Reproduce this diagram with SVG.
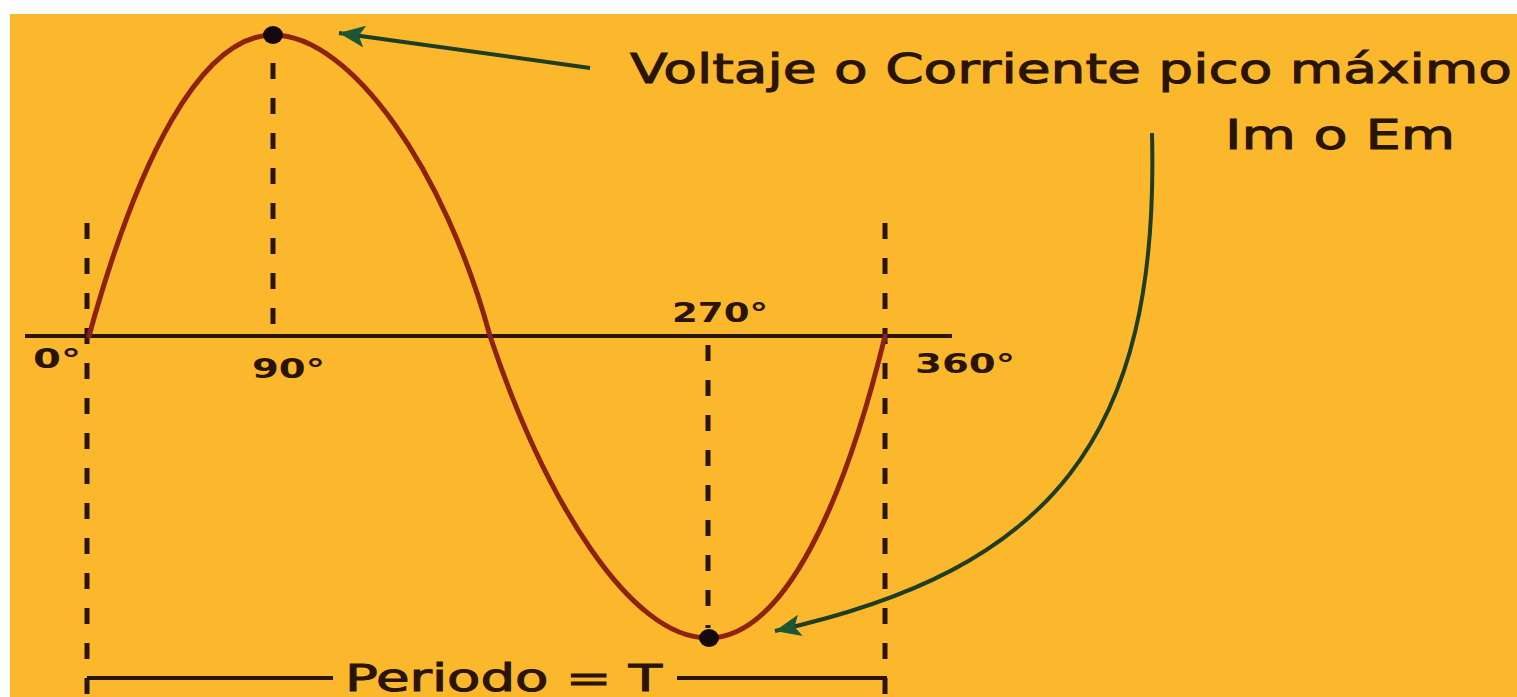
<svg xmlns="http://www.w3.org/2000/svg" width="1517" height="697" viewBox="0 0 1517 697">
<style>
.bg{fill:#FBB82C}
.dash{stroke:#2a1406;stroke-width:5;stroke-dasharray:16 19;fill:none}
.axis{stroke:#2a1406;stroke-width:4;fill:none}
.wave{stroke:#8e2210;stroke-width:5;fill:none;stroke-linecap:round}
.lbl{font-family:"DejaVu Sans","Liberation Sans",sans-serif;fill:#2a1406;stroke:#2a1406;stroke-width:1}
.deg{font-family:"DejaVu Sans","Liberation Sans",sans-serif;font-weight:bold;font-size:26px;fill:#2a1406}
.arrow{stroke:#1f3d22;stroke-width:4;fill:none}
.dot{fill:#140808}
</style>
<defs>
<marker id="ah" markerUnits="userSpaceOnUse" markerWidth="28" markerHeight="22" refX="26" refY="11" orient="auto">
<path d="M0,0 L26,11 L0,22 L6,11 Z" fill="#1d5637"/>
</marker>
</defs>
<rect x="0" y="0" width="1517" height="697" fill="#ffffff"/>
<rect class="bg" x="10" y="14" width="1507" height="683"/>

<g id="guides">
<line class="dash" x1="87" y1="223" x2="87" y2="697"/>
<line class="dash" x1="273" y1="63" x2="273" y2="336"/>
<line class="dash" x1="708" y1="345" x2="708" y2="628"/>
<line class="dash" x1="885" y1="223" x2="885" y2="697"/>
</g>

<g id="axis">
<line class="axis" x1="25" y1="336" x2="952" y2="336"/>
</g>

<g id="wave">
<path class="wave" d="M89,336 C137,162 200,35 273,35 C351,35 445,170 490,336 C545,500 630,638 708,638 C785,638 845,500 885,336"/>
<ellipse class="dot" cx="273" cy="35" rx="10" ry="9"/>
<ellipse class="dot" cx="709" cy="638" rx="10" ry="9"/>
</g>

<g id="period">
<line class="axis" x1="87" y1="678" x2="333" y2="678"/>
<line class="axis" x1="677" y1="678" x2="887" y2="678"/>
<text class="lbl" x="345" y="691" font-size="37" textLength="317" lengthAdjust="spacingAndGlyphs">Periodo = T</text>
</g>

<g id="labels">
<text class="deg" x="33" y="368" textLength="48" lengthAdjust="spacingAndGlyphs">0°</text>
<text class="deg" x="252" y="378" textLength="73" lengthAdjust="spacingAndGlyphs">90°</text>
<text class="deg" x="672" y="322" textLength="96" lengthAdjust="spacingAndGlyphs">270°</text>
<text class="deg" x="915" y="373" textLength="100" lengthAdjust="spacingAndGlyphs">360°</text>
</g>

<g id="peak-label">
<text class="lbl" x="630" y="83" font-size="40" textLength="882" lengthAdjust="spacingAndGlyphs">Voltaje o Corriente pico máximo</text>
<text class="lbl" x="1225" y="149" font-size="40" textLength="230" lengthAdjust="spacingAndGlyphs">Im o Em</text>
</g>

<g id="connectors">
<path class="arrow" d="M590,68 L339,33" marker-end="url(#ah)"/>
<path class="arrow" d="M1152,133 C1160,440 1050,570 775,631" marker-end="url(#ah)"/>
</g>
</svg>
